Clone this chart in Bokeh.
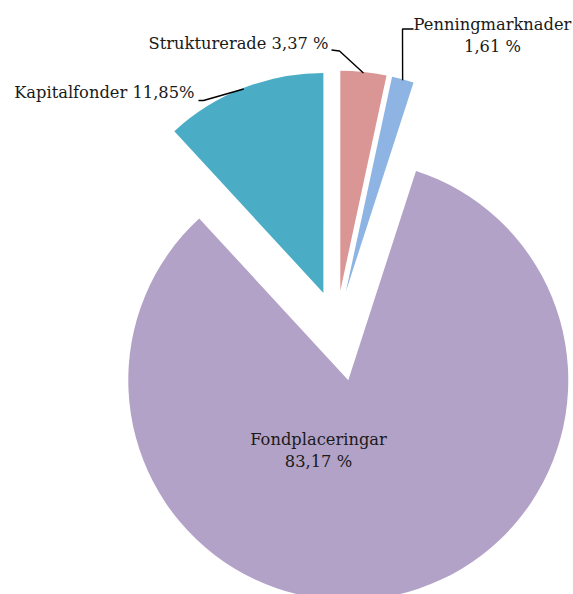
import math
from bokeh.plotting import figure
from bokeh.models import Range1d
from bokeh.core.properties import value
from bokeh.embed import file_html
from bokeh.resources import INLINE

# ---------------- data ----------------
categories = ["Strukturerade", "Penningmarknader", "Fondplaceringar", "Kapitalfonder"]
shares = [3.37, 1.61, 83.17, 11.85]
share_texts = ["3,37 %", "1,61 %", "83,17 %", "11,85%"]

# ---------------- styles ----------------
colors = ["#D99694", "#8EB4E3", "#B3A2C7", "#4BACC6"]
explode = [36, 36, 55, 36]
RADIUS = 220
LEADER_R = 219
PAGE_H = 594
CENTER = (336, PAGE_H - 326)
FONT = "DejaVu Serif"
FS = "16.3px"
TEXT_SHIFT = 6  # compensation for baseline rendering

W, H = 573, 594


def sy(y_screen):
    return PAGE_H - y_screen


p = figure(width=W, height=H, x_range=Range1d(0, W), y_range=Range1d(PAGE_H - H, PAGE_H),
           output_backend="svg", toolbar_location=None, min_border=0)
p.xaxis.visible = False
p.yaxis.visible = False
p.grid.visible = False
p.outline_line_color = None
p.background_fill_color = "white"
p.border_fill_color = "white"

total = sum(shares)
cum = 0.0
xs, ys, starts, ends, mids = [], [], [], [], []
for v, d in zip(shares, explode):
    a0 = cum / total
    cum += v
    a1 = cum / total
    s = math.pi / 2 - 2 * math.pi * a0
    e = math.pi / 2 - 2 * math.pi * a1
    m = (s + e) / 2
    xs.append(CENTER[0] + d * math.cos(m))
    ys.append(CENTER[1] + d * math.sin(m))
    starts.append(s)
    ends.append(e)
    mids.append(m)

p.wedge(x=xs, y=ys, radius=RADIUS, start_angle=starts, end_angle=ends, direction="clock",
        fill_color=colors, line_color=None)

arc_pts = [(xs[i] + LEADER_R * math.cos(mids[i]), ys[i] + LEADER_R * math.sin(mids[i])) for i in range(4)]

# leader lines (label side start point, elbow) in screen coords
leaders = {
    0: [(331, 49.5), (339, 50.5)],
    1: [(413, 28.5), (402, 28.5)],
    3: [(198, 100), (203, 100)],
}
for i, pts in leaders.items():
    lx = [pt[0] for pt in pts] + [arc_pts[i][0]]
    ly = [sy(pt[1]) for pt in pts] + [arc_pts[i][1]]
    p.line(lx, ly, line_color="black", line_width=1.4)


def label(x, y_base, txt, align):
    p.text(x=[x], y=[sy(y_base - TEXT_SHIFT)], text=[txt], text_align=align, text_baseline="alphabetic",
           text_font=value(FONT), text_font_size=FS, text_color="#1a1a1a")


label(328, 49, f"{categories[0]} {share_texts[0]}", "right")
label(492, 30, categories[1], "center")
label(492, 52, share_texts[1], "center")
label(318, 445, categories[2], "center")
label(318, 467, share_texts[2], "center")
label(194, 98, f"{categories[3]} {share_texts[3]}", "right")

open("out.html", "w").write(file_html(p, INLINE))
